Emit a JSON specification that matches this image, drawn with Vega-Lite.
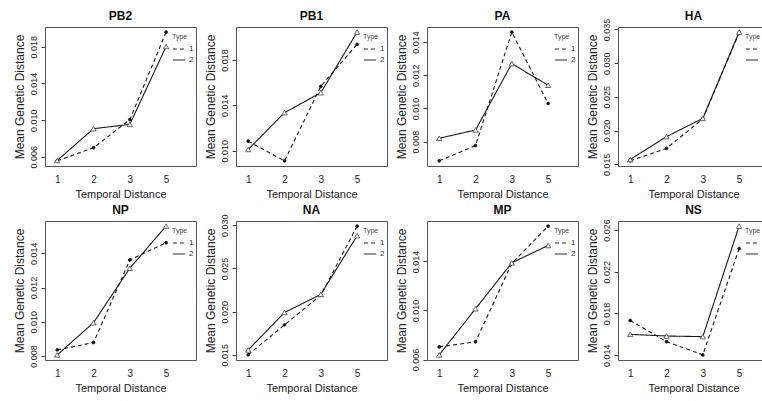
{
  "$schema": "https://vega.github.io/schema/vega-lite/v6.json",
  "padding": {"left": 12, "top": 9, "right": 0, "bottom": 0},
  "bounds": "flush",
  "columns": 4,
  "spacing": {"row": 55, "column": 40},
  "datasets": {
    "d": [
      {"gene": "PB2", "type": "1", "t": 1, "dist": 0.00556}, {"gene": "PB2", "type": "1", "t": 2, "dist": 0.00699}, {"gene": "PB2", "type": "1", "t": 3, "dist": 0.01006}, {"gene": "PB2", "type": "1", "t": 5, "dist": 0.0196},
      {"gene": "PB2", "type": "2", "t": 1, "dist": 0.0056}, {"gene": "PB2", "type": "2", "t": 2, "dist": 0.00907}, {"gene": "PB2", "type": "2", "t": 3, "dist": 0.00954}, {"gene": "PB2", "type": "2", "t": 5, "dist": 0.01804},
      {"gene": "PB1", "type": "1", "t": 1, "dist": 0.01084}, {"gene": "PB1", "type": "1", "t": 2, "dist": 0.0091}, {"gene": "PB1", "type": "1", "t": 3, "dist": 0.01567}, {"gene": "PB1", "type": "1", "t": 5, "dist": 0.01937},
      {"gene": "PB1", "type": "2", "t": 1, "dist": 0.01011}, {"gene": "PB1", "type": "2", "t": 2, "dist": 0.01335}, {"gene": "PB1", "type": "2", "t": 3, "dist": 0.01511}, {"gene": "PB1", "type": "2", "t": 5, "dist": 0.02045},
      {"gene": "PA", "type": "1", "t": 1, "dist": 0.00684}, {"gene": "PA", "type": "1", "t": 2, "dist": 0.00776}, {"gene": "PA", "type": "1", "t": 3, "dist": 0.0146}, {"gene": "PA", "type": "1", "t": 5, "dist": 0.0103},
      {"gene": "PA", "type": "2", "t": 1, "dist": 0.0082}, {"gene": "PA", "type": "2", "t": 2, "dist": 0.0087}, {"gene": "PA", "type": "2", "t": 3, "dist": 0.0127}, {"gene": "PA", "type": "2", "t": 5, "dist": 0.0114},
      {"gene": "HA", "type": "1", "t": 1, "dist": 0.0155}, {"gene": "HA", "type": "1", "t": 2, "dist": 0.01736}, {"gene": "HA", "type": "1", "t": 3, "dist": 0.02173}, {"gene": "HA", "type": "1", "t": 5, "dist": 0.0345},
      {"gene": "HA", "type": "2", "t": 1, "dist": 0.0157}, {"gene": "HA", "type": "2", "t": 2, "dist": 0.0191}, {"gene": "HA", "type": "2", "t": 3, "dist": 0.0218}, {"gene": "HA", "type": "2", "t": 5, "dist": 0.0346},
      {"gene": "NP", "type": "1", "t": 1, "dist": 0.00835}, {"gene": "NP", "type": "1", "t": 2, "dist": 0.00878}, {"gene": "NP", "type": "1", "t": 3, "dist": 0.01361}, {"gene": "NP", "type": "1", "t": 5, "dist": 0.01462},
      {"gene": "NP", "type": "2", "t": 1, "dist": 0.00806}, {"gene": "NP", "type": "2", "t": 2, "dist": 0.00994}, {"gene": "NP", "type": "2", "t": 3, "dist": 0.01313}, {"gene": "NP", "type": "2", "t": 5, "dist": 0.01559},
      {"gene": "NA", "type": "1", "t": 1, "dist": 0.0150}, {"gene": "NA", "type": "1", "t": 2, "dist": 0.01847}, {"gene": "NA", "type": "1", "t": 3, "dist": 0.0219}, {"gene": "NA", "type": "1", "t": 5, "dist": 0.0299},
      {"gene": "NA", "type": "2", "t": 1, "dist": 0.01557}, {"gene": "NA", "type": "2", "t": 2, "dist": 0.0199}, {"gene": "NA", "type": "2", "t": 3, "dist": 0.0220}, {"gene": "NA", "type": "2", "t": 5, "dist": 0.0288},
      {"gene": "MP", "type": "1", "t": 1, "dist": 0.00703}, {"gene": "MP", "type": "1", "t": 2, "dist": 0.00744}, {"gene": "MP", "type": "1", "t": 3, "dist": 0.01384}, {"gene": "MP", "type": "1", "t": 5, "dist": 0.01688},
      {"gene": "MP", "type": "2", "t": 1, "dist": 0.00638}, {"gene": "MP", "type": "2", "t": 2, "dist": 0.01014}, {"gene": "MP", "type": "2", "t": 3, "dist": 0.01389}, {"gene": "MP", "type": "2", "t": 5, "dist": 0.0153},
      {"gene": "NS", "type": "1", "t": 1, "dist": 0.01733}, {"gene": "NS", "type": "1", "t": 2, "dist": 0.0153}, {"gene": "NS", "type": "1", "t": 3, "dist": 0.01403}, {"gene": "NS", "type": "1", "t": 5, "dist": 0.02422},
      {"gene": "NS", "type": "2", "t": 1, "dist": 0.016}, {"gene": "NS", "type": "2", "t": 2, "dist": 0.01584}, {"gene": "NS", "type": "2", "t": 3, "dist": 0.01578}, {"gene": "NS", "type": "2", "t": 5, "dist": 0.02638}
    ]
  },
  "resolve": {"legend": {"strokeDash": "independent"}},
  "concat": [
    {"title": "PB2", "width": 151, "height": 139, "data": {"name": "d"}, "transform": [{"filter": "datum.gene === 'PB2'"}],
      "encoding": {"x": {"field": "t", "type": "ordinal", "scale": {"type": "point", "padding": 0.58, "align": 0.29}, "axis": {"title": "Temporal Distance"}},
        "y": {"field": "dist", "type": "quantitative", "scale": {"domain": [0.0050, 0.02016], "nice": false, "zero": false}, "axis": {"values": [0.006, 0.010, 0.014, 0.018], "format": ".3f", "title": "Mean Genetic Distance"}}},
      "layer": [
        {"mark": {"type": "line", "color": "#1a1a1a", "strokeWidth": 1.1}, "encoding": {"strokeDash": {"field": "type", "type": "nominal", "scale": {"domain": ["1", "2"], "range": [[4, 3], [1, 0]]}, "legend": {"title": "Type", "orient": "none", "legendX": 127, "legendY": 6}}}},
        {"mark": {"type": "point", "strokeWidth": 0.8, "opacity": 1}, "encoding": {"shape": {"field": "type", "type": "nominal", "scale": {"domain": ["1", "2"], "range": ["circle", "triangle-up"]}, "legend": null}, "fill": {"field": "type", "type": "nominal", "scale": {"domain": ["1", "2"], "range": ["#111111", "#ffffff"]}, "legend": null}, "stroke": {"field": "type", "type": "nominal", "scale": {"domain": ["1", "2"], "range": ["#111111", "#444444"]}, "legend": null}, "size": {"field": "type", "type": "nominal", "scale": {"domain": ["1", "2"], "range": [8, 28]}, "legend": null}}}
      ]},
    {"title": "PB1", "width": 151, "height": 139, "data": {"name": "d"}, "transform": [{"filter": "datum.gene === 'PB1'"}],
      "encoding": {"x": {"field": "t", "type": "ordinal", "scale": {"type": "point", "padding": 0.58, "align": 0.29}, "axis": {"title": "Temporal Distance"}},
        "y": {"field": "dist", "type": "quantitative", "scale": {"domain": [0.00865, 0.0209], "nice": false, "zero": false}, "axis": {"values": [0.010, 0.014, 0.018], "format": ".3f", "title": "Mean Genetic Distance"}}},
      "layer": [
        {"mark": {"type": "line", "color": "#1a1a1a", "strokeWidth": 1.1}, "encoding": {"strokeDash": {"field": "type", "type": "nominal", "scale": {"domain": ["1", "2"], "range": [[4, 3], [1, 0]]}, "legend": {"title": "Type", "orient": "none", "legendX": 127, "legendY": 6}}}},
        {"mark": {"type": "point", "strokeWidth": 0.8, "opacity": 1}, "encoding": {"shape": {"field": "type", "type": "nominal", "scale": {"domain": ["1", "2"], "range": ["circle", "triangle-up"]}, "legend": null}, "fill": {"field": "type", "type": "nominal", "scale": {"domain": ["1", "2"], "range": ["#111111", "#ffffff"]}, "legend": null}, "stroke": {"field": "type", "type": "nominal", "scale": {"domain": ["1", "2"], "range": ["#111111", "#444444"]}, "legend": null}, "size": {"field": "type", "type": "nominal", "scale": {"domain": ["1", "2"], "range": [8, 28]}, "legend": null}}}
      ]},
    {"title": "PA", "width": 151, "height": 139, "data": {"name": "d"}, "transform": [{"filter": "datum.gene === 'PA'"}],
      "encoding": {"x": {"field": "t", "type": "ordinal", "scale": {"type": "point", "padding": 0.58, "align": 0.29}, "axis": {"title": "Temporal Distance"}},
        "y": {"field": "dist", "type": "quantitative", "scale": {"domain": [0.00653, 0.01491], "nice": false, "zero": false}, "axis": {"values": [0.008, 0.010, 0.012, 0.014], "format": ".3f", "title": "Mean Genetic Distance"}}},
      "layer": [
        {"mark": {"type": "line", "color": "#1a1a1a", "strokeWidth": 1.1}, "encoding": {"strokeDash": {"field": "type", "type": "nominal", "scale": {"domain": ["1", "2"], "range": [[4, 3], [1, 0]]}, "legend": {"title": "Type", "orient": "none", "legendX": 127, "legendY": 6}}}},
        {"mark": {"type": "point", "strokeWidth": 0.8, "opacity": 1}, "encoding": {"shape": {"field": "type", "type": "nominal", "scale": {"domain": ["1", "2"], "range": ["circle", "triangle-up"]}, "legend": null}, "fill": {"field": "type", "type": "nominal", "scale": {"domain": ["1", "2"], "range": ["#111111", "#ffffff"]}, "legend": null}, "stroke": {"field": "type", "type": "nominal", "scale": {"domain": ["1", "2"], "range": ["#111111", "#444444"]}, "legend": null}, "size": {"field": "type", "type": "nominal", "scale": {"domain": ["1", "2"], "range": [8, 28]}, "legend": null}}}
      ]},
    {"title": {"text": "HA", "dy": 9}, "width": 151, "height": 139, "data": {"name": "d"}, "transform": [{"filter": "datum.gene === 'HA'"}],
      "encoding": {"x": {"field": "t", "type": "ordinal", "scale": {"type": "point", "padding": 0.58, "align": 0.29}, "axis": {"title": "Temporal Distance"}},
        "y": {"field": "dist", "type": "quantitative", "scale": {"domain": [0.01474, 0.03536], "nice": false, "zero": false}, "axis": {"values": [0.015, 0.020, 0.025, 0.030, 0.035], "format": ".3f", "title": "Mean Genetic Distance"}}},
      "layer": [
        {"mark": {"type": "line", "color": "#1a1a1a", "strokeWidth": 1.1}, "encoding": {"strokeDash": {"field": "type", "type": "nominal", "scale": {"domain": ["1", "2"], "range": [[4, 3], [1, 0]]}, "legend": {"title": "Type", "orient": "none", "legendX": 127, "legendY": 6}}}},
        {"mark": {"type": "point", "strokeWidth": 0.8, "opacity": 1}, "encoding": {"shape": {"field": "type", "type": "nominal", "scale": {"domain": ["1", "2"], "range": ["circle", "triangle-up"]}, "legend": null}, "fill": {"field": "type", "type": "nominal", "scale": {"domain": ["1", "2"], "range": ["#111111", "#ffffff"]}, "legend": null}, "stroke": {"field": "type", "type": "nominal", "scale": {"domain": ["1", "2"], "range": ["#111111", "#444444"]}, "legend": null}, "size": {"field": "type", "type": "nominal", "scale": {"domain": ["1", "2"], "range": [8, 28]}, "legend": null}}}
      ]},
    {"title": "NP", "width": 151, "height": 139, "data": {"name": "d"}, "transform": [{"filter": "datum.gene === 'NP'"}],
      "encoding": {"x": {"field": "t", "type": "ordinal", "scale": {"type": "point", "padding": 0.58, "align": 0.29}, "axis": {"title": "Temporal Distance"}},
        "y": {"field": "dist", "type": "quantitative", "scale": {"domain": [0.00776, 0.01589], "nice": false, "zero": false}, "axis": {"values": [0.008, 0.010, 0.012, 0.014], "format": ".3f", "title": "Mean Genetic Distance"}}},
      "layer": [
        {"mark": {"type": "line", "color": "#1a1a1a", "strokeWidth": 1.1}, "encoding": {"strokeDash": {"field": "type", "type": "nominal", "scale": {"domain": ["1", "2"], "range": [[4, 3], [1, 0]]}, "legend": {"title": "Type", "orient": "none", "legendX": 127, "legendY": 6}}}},
        {"mark": {"type": "point", "strokeWidth": 0.8, "opacity": 1}, "encoding": {"shape": {"field": "type", "type": "nominal", "scale": {"domain": ["1", "2"], "range": ["circle", "triangle-up"]}, "legend": null}, "fill": {"field": "type", "type": "nominal", "scale": {"domain": ["1", "2"], "range": ["#111111", "#ffffff"]}, "legend": null}, "stroke": {"field": "type", "type": "nominal", "scale": {"domain": ["1", "2"], "range": ["#111111", "#444444"]}, "legend": null}, "size": {"field": "type", "type": "nominal", "scale": {"domain": ["1", "2"], "range": [8, 28]}, "legend": null}}}
      ]},
    {"title": {"text": "NA", "dy": 7}, "width": 151, "height": 139, "data": {"name": "d"}, "transform": [{"filter": "datum.gene === 'NA'"}],
      "encoding": {"x": {"field": "t", "type": "ordinal", "scale": {"type": "point", "padding": 0.58, "align": 0.29}, "axis": {"title": "Temporal Distance"}},
        "y": {"field": "dist", "type": "quantitative", "scale": {"domain": [0.0144, 0.0305], "nice": false, "zero": false}, "axis": {"values": [0.015, 0.020, 0.025, 0.030], "format": ".3f", "title": "Mean Genetic Distance"}}},
      "layer": [
        {"mark": {"type": "line", "color": "#1a1a1a", "strokeWidth": 1.1}, "encoding": {"strokeDash": {"field": "type", "type": "nominal", "scale": {"domain": ["1", "2"], "range": [[4, 3], [1, 0]]}, "legend": {"title": "Type", "orient": "none", "legendX": 127, "legendY": 6}}}},
        {"mark": {"type": "point", "strokeWidth": 0.8, "opacity": 1}, "encoding": {"shape": {"field": "type", "type": "nominal", "scale": {"domain": ["1", "2"], "range": ["circle", "triangle-up"]}, "legend": null}, "fill": {"field": "type", "type": "nominal", "scale": {"domain": ["1", "2"], "range": ["#111111", "#ffffff"]}, "legend": null}, "stroke": {"field": "type", "type": "nominal", "scale": {"domain": ["1", "2"], "range": ["#111111", "#444444"]}, "legend": null}, "size": {"field": "type", "type": "nominal", "scale": {"domain": ["1", "2"], "range": [8, 28]}, "legend": null}}}
      ]},
    {"title": "MP", "width": 151, "height": 139, "data": {"name": "d"}, "transform": [{"filter": "datum.gene === 'MP'"}],
      "encoding": {"x": {"field": "t", "type": "ordinal", "scale": {"type": "point", "padding": 0.58, "align": 0.29}, "axis": {"title": "Temporal Distance"}},
        "y": {"field": "dist", "type": "quantitative", "scale": {"domain": [0.00596, 0.0173], "nice": false, "zero": false}, "axis": {"values": [0.006, 0.010, 0.014], "format": ".3f", "title": "Mean Genetic Distance"}}},
      "layer": [
        {"mark": {"type": "line", "color": "#1a1a1a", "strokeWidth": 1.1}, "encoding": {"strokeDash": {"field": "type", "type": "nominal", "scale": {"domain": ["1", "2"], "range": [[4, 3], [1, 0]]}, "legend": {"title": "Type", "orient": "none", "legendX": 127, "legendY": 6}}}},
        {"mark": {"type": "point", "strokeWidth": 0.8, "opacity": 1}, "encoding": {"shape": {"field": "type", "type": "nominal", "scale": {"domain": ["1", "2"], "range": ["circle", "triangle-up"]}, "legend": null}, "fill": {"field": "type", "type": "nominal", "scale": {"domain": ["1", "2"], "range": ["#111111", "#ffffff"]}, "legend": null}, "stroke": {"field": "type", "type": "nominal", "scale": {"domain": ["1", "2"], "range": ["#111111", "#444444"]}, "legend": null}, "size": {"field": "type", "type": "nominal", "scale": {"domain": ["1", "2"], "range": [8, 28]}, "legend": null}}}
      ]},
    {"title": {"text": "NS", "dy": 2}, "width": 151, "height": 139, "data": {"name": "d"}, "transform": [{"filter": "datum.gene === 'NS'"}],
      "encoding": {"x": {"field": "t", "type": "ordinal", "scale": {"type": "point", "padding": 0.58, "align": 0.29}, "axis": {"title": "Temporal Distance"}},
        "y": {"field": "dist", "type": "quantitative", "scale": {"domain": [0.01354, 0.02687], "nice": false, "zero": false}, "axis": {"values": [0.014, 0.018, 0.022, 0.026], "format": ".3f", "title": "Mean Genetic Distance"}}},
      "layer": [
        {"mark": {"type": "line", "color": "#1a1a1a", "strokeWidth": 1.1}, "encoding": {"strokeDash": {"field": "type", "type": "nominal", "scale": {"domain": ["1", "2"], "range": [[4, 3], [1, 0]]}, "legend": {"title": "Type", "orient": "none", "legendX": 127, "legendY": 6}}}},
        {"mark": {"type": "point", "strokeWidth": 0.8, "opacity": 1}, "encoding": {"shape": {"field": "type", "type": "nominal", "scale": {"domain": ["1", "2"], "range": ["circle", "triangle-up"]}, "legend": null}, "fill": {"field": "type", "type": "nominal", "scale": {"domain": ["1", "2"], "range": ["#111111", "#ffffff"]}, "legend": null}, "stroke": {"field": "type", "type": "nominal", "scale": {"domain": ["1", "2"], "range": ["#111111", "#444444"]}, "legend": null}, "size": {"field": "type", "type": "nominal", "scale": {"domain": ["1", "2"], "range": [8, 28]}, "legend": null}}}
      ]}
  ],
  "config": {
    "font": "Liberation Sans",
    "background": "#ffffff",
    "view": {"stroke": "#555555", "strokeWidth": 1},
    "title": {"fontSize": 12, "fontWeight": "bold", "color": "#111111", "offset": 4},
    "axis": {"grid": false, "domain": false, "tickColor": "#444444", "labelColor": "#222222", "titleColor": "#222222", "titleFontWeight": "normal"},
    "axisX": {"ticks": false, "labelAngle": 0, "labelFontSize": 10, "labelPadding": 8, "titleFontSize": 11, "titlePadding": 4},
    "axisY": {"tickSize": 4, "labelAngle": -90, "labelAlign": "center", "labelBaseline": "bottom", "labelFontSize": 9, "labelPadding": 3, "titleFontSize": 12, "titlePadding": 3},
    "legend": {"symbolType": "stroke", "symbolSize": 150, "symbolStrokeWidth": 1, "symbolStrokeColor": "#222222", "titleFontSize": 7, "titleFontWeight": "normal", "titleColor": "#444444", "labelFontSize": 8, "labelColor": "#333333", "rowPadding": 0, "titlePadding": 2, "labelOffset": 3}
  }
}
